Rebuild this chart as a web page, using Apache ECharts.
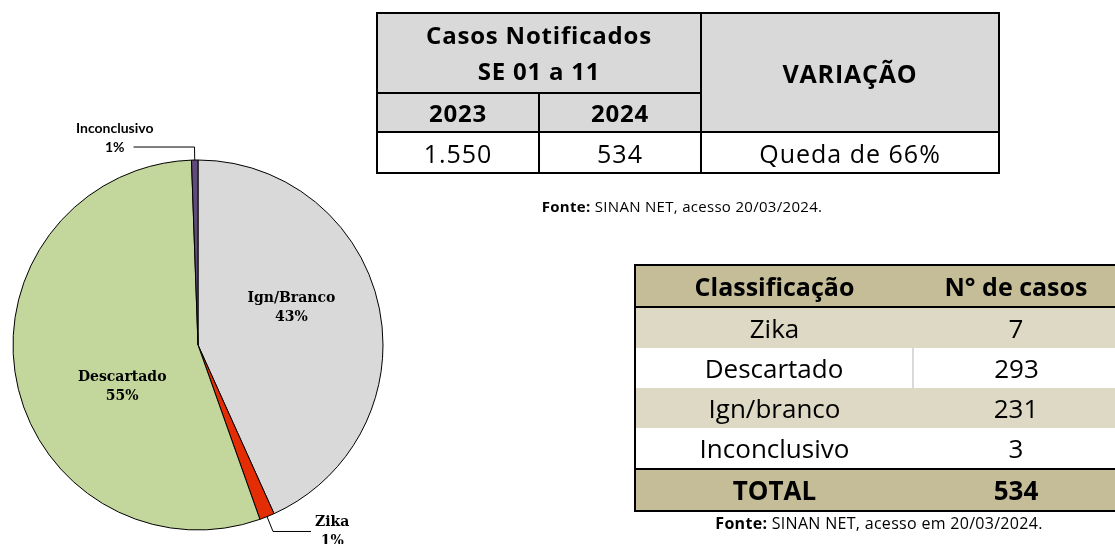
<!DOCTYPE html>
<html>
<head>
<meta charset="utf-8">
<script src="https://cdn.jsdelivr.net/npm/echarts@6/dist/echarts.min.js"></script>
<style>
	body { margin: 0; background: #fff; }
	#wrap { position: relative; width: 1115px; height: 544px; overflow: hidden; }
	#chart { position: absolute; left: 0; top: 0; width: 1115px; height: 544px; }
	table { position: absolute; border-collapse: collapse; table-layout: fixed; font-family: "Open Sans", sans-serif; color: #000; text-align: center; }
	td { padding: 0; white-space: nowrap; }
	.t1 { left: 376px; top: 12px; width: 622px; border: 2px solid #000; }
	.t1 td { border: 2px solid #000; }
	.t1 .hd { background: #d9d9d9; font-weight: bold; font-size: 24px; letter-spacing: 0.8px; }
	.t1 .val { font-size: 25px; letter-spacing: 1px; }
	.t2 { left: 634px; top: 264px; width: 485px; border-left: 2.5px solid #000; border-top: 2.5px solid #000; border-bottom: 2.5px solid #000; font-size: 26px; line-height: 30px; }
	.t2 td { height: 40px; }
	.t2 .hd td { background: #c4bd97; font-weight: bold; font-size: 25px; border-bottom: 2.5px solid #000; }
	.t2 .tot td { background: #c4bd97; font-weight: bold; border-top: 2.5px solid #000; }
	.t2 .odd td { background: #ddd9c4; }
	.src { position: absolute; font-family: "Open Sans", sans-serif; letter-spacing: 0.3px; color: #000; white-space: nowrap; transform: translate(-50%, -50%); }
</style>
</head>
<body>
<div id="wrap">
	<div id="chart"></div>
	<table class="t1" id="t1"></table>
	<div class="src" style="left: 682px; top: 206px; font-size: 15px;"><b>Fonte:</b> SINAN NET, acesso 20/03/2024.</div>
	<table class="t2" id="t2"></table>
	<div class="src" style="left: 879px; top: 523px; font-size: 16px;"><b>Fonte:</b> SINAN NET, acesso em 20/03/2024.</div>
</div>
<script>
	// categorias e casos (pie)
	const categories = ['Ign/Branco', 'Zika', 'Descartado', 'Inconclusivo']
	const cases = [231, 7, 293, 3]
	const colors = ['#d9d9d9', '#e42d05', '#c3d69b', '#604a7b']

	// tabela de classificação
	const tableNames = ['Zika', 'Descartado', 'Ign/branco', 'Inconclusivo']
	const tableCases = [7, 293, 231, 3]

	// casos notificados SE 01 a 11
	const years = ['2023', '2024']
	const yearCases = ['1.550', '534']
	const variation = 'Queda de 66%'

	// tabela 1
	document.getElementById('t1').innerHTML =
		'<colgroup><col style="width:162px"><col style="width:162px"><col style="width:298px"></colgroup>' +
		'<tr style="height:80px"><td class="hd" colspan="2" style="line-height:36px">Casos Notificados<br>SE 01 a 11</td>' +
		'<td class="hd" rowspan="2" style="font-size:25px">VARIAÇÃO</td></tr>' +
		'<tr style="height:39px">' + years.map(y => '<td class="hd">' + y + '</td>').join('') + '</tr>' +
		'<tr style="height:41px">' + yearCases.map(v => '<td class="val">' + v + '</td>').join('') +
		'<td class="val">' + variation + '</td></tr>'

	// tabela 2
	const total = tableCases.reduce((a, b) => a + b, 0)
	let rows = '<colgroup><col style="width:278px"><col></colgroup>' +
		'<tr class="hd"><td>Classificação</td><td>N° de casos</td></tr>'
	tableNames.forEach((n, i) => {
		const sep = i === 1 ? ' style="border-right:2px solid #d9d9d9"' : ''
		rows += '<tr class="' + (i % 2 === 0 ? 'odd' : 'even') + '"><td' + sep + '>' + n + '</td><td>' + tableCases[i] + '</td></tr>'
	})
	rows += '<tr class="tot"><td>TOTAL</td><td>' + total + '</td></tr>'
	document.getElementById('t2').innerHTML = rows

	// pizza
	const sum = cases.reduce((a, b) => a + b, 0)
	const pct = v => Math.round(v / sum * 100) + '%'
	const serifLabel = {
		fontFamily: 'DejaVu Serif',
		fontWeight: 'bold',
		fontSize: 14,
		lineHeight: 19,
		color: '#000'
	}
	const pieData = categories.map((name, i) => {
		const item = { name: name, value: cases[i], itemStyle: { color: colors[i] } }
		if (name === 'Ign/Branco') {
			item.label = Object.assign({ position: 'inside', offset: [0, -17] }, serifLabel)
		} else if (name === 'Descartado') {
			item.label = Object.assign({ position: 'inside', offset: [18, 24] }, serifLabel)
		} else if (name === 'Zika') {
			item.label = {
				position: 'outside',
				distanceToLabelLine: 4,
				formatter: p => '{s|' + p.name + '}\n{s|' + pct(p.value) + '}',
				rich: { s: Object.assign({ align: 'center' }, serifLabel) }
			}
			item.labelLine = { length: 16, length2: 38 }
		} else {
			const sans = { fontFamily: 'Lato', fontWeight: 'bold', fontSize: 14, lineHeight: 19, color: '#000', align: 'center' }
			item.label = {
				position: 'outside',
				distanceToLabelLine: -20,
				formatter: p => '{s|' + p.name + '}\n{s|' + pct(p.value) + '}\n{s| }',
				rich: { s: sans }
			}
			item.labelLine = { length: 13, length2: 61 }
		}
		return item
	})

	const chart = echarts.init(document.getElementById('chart'))
	chart.setOption({
		animation: false,
		series: [{
			type: 'pie',
			center: [198, 345],
			radius: 185,
			startAngle: 90,
			clockwise: true,
			avoidLabelOverlap: false,
			itemStyle: { borderColor: '#000', borderWidth: 1 },
			labelLine: { lineStyle: { color: '#000', width: 1 } },
			label: {
				formatter: p => p.name + '\n' + pct(p.value)
			},
			emphasis: { disabled: true },
			data: pieData
		}]
	})
</script>
</body>
</html>
